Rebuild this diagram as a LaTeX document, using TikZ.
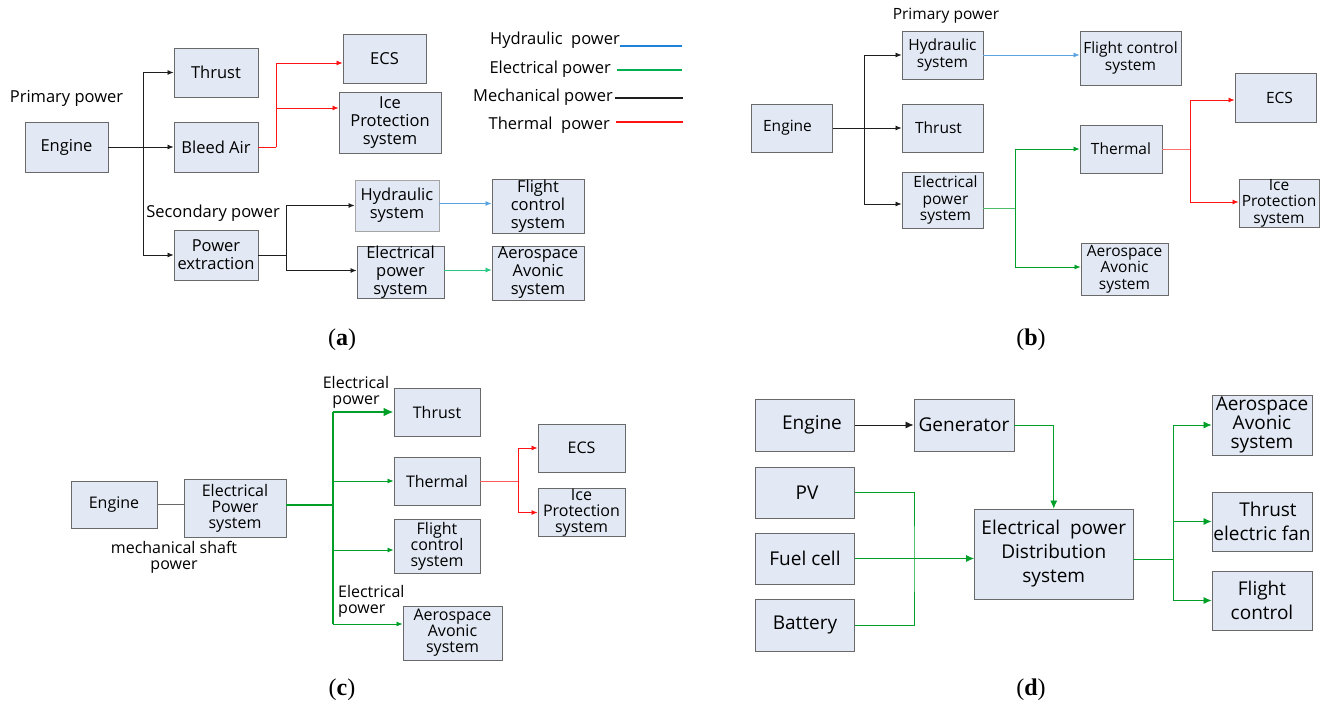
\documentclass[tikz,border=0pt]{standalone}
\usepackage{fontspec}
\setmainfont{Open Sans}
\newfontfamily\capfont{Liberation Serif}
\usetikzlibrary{arrows.meta,calc}

\definecolor{boxfill}{RGB}{226,233,244}
\definecolor{boxline}{RGB}{105,105,105}
\definecolor{hydblue}{RGB}{30,130,215}
\definecolor{hydline}{RGB}{90,165,225}
\definecolor{elgreen}{RGB}{0,160,40}
\definecolor{legreen}{RGB}{0,176,80}
\definecolor{tealgreen}{RGB}{40,200,130}
\definecolor{thred}{RGB}{255,20,20}
\definecolor{mech}{RGB}{30,30,30}

\tikzset{
  blk/.style={draw=boxline, fill=boxfill, line width=0.9pt, inner sep=0pt,
    align=center, text=black},
  fa/.style={font=\fontsize{16.5}{18}\selectfont},
  fb/.style={font=\fontsize{15.5}{16.5}\selectfont},
  fc/.style={font=\fontsize{16}{16}\selectfont},
  fd/.style={font=\fontsize{19}{24}\selectfont},
  lbl/.style={inner sep=0pt, align=center, text=black},
  wire/.style={line width=0.8pt},
  tip/.style={-{Latex[length=6pt,width=5pt]}},
  dtip/.style={-{Latex[length=8pt,width=7pt]}},
  bigtip/.style={-{Latex[length=10pt,width=9pt]}},
  mechw/.style={wire, draw=mech},
  hydw/.style={wire, draw=hydline},
  elw/.style={wire, draw=elgreen},
  thw/.style={wire, draw=thred},
  panelcap/.style={inner sep=0pt, font=\capfont\fontsize{24}{26}\selectfont}
}

\begin{document}
\begin{tikzpicture}[x=1pt, y=-1pt]
\useasboundingbox (0,0) rectangle (1323,709);

% ---------------- (a) ----------------
\node[blk,fa,minimum width=83pt,minimum height=50pt] (aEng) at (66.5,147) {Engine};
\node[blk,fa,minimum width=84pt,minimum height=49pt] (aThr) at (216,72.5) {Thrust};
\node[blk,fa,minimum width=84pt,minimum height=50pt] (aBleed) at (216,147) {Bleed Air};
\node[blk,fa,minimum width=84pt,minimum height=50pt] (aPow) at (216,255) {Power\\extraction};
\node[blk,fa,minimum width=83pt,minimum height=49pt] (aECS) at (384.5,58.5) {ECS};
\node[blk,fa,minimum width=102pt,minimum height=61pt] (aIce) at (390,122.5) {Ice\\Protection\\system};
\node[blk,fa,draw=boxline!60,minimum width=84pt,minimum height=51pt] (aHyd) at (397,205.5) {Hydraulic\\system};
\node[blk,fa,minimum width=87pt,minimum height=51pt] (aEps) at (400.5,272.5) {Electrical\\power\\system};
\node[blk,fa,minimum width=92pt,minimum height=54pt] (aFcs) at (538,206) {Flight\\control\\system};
\node[blk,fa,minimum width=92pt,minimum height=54pt] (aAer) at (538,273) {Aerospace\\Avonic\\system};

\node[lbl,fa] (aPrim) at (66.5,98) {Primary power};
\node[lbl,fa] (aSec) at (213,213) {Secondary power};

\coordinate (aJ) at (143,147);
\draw[mechw,tip] (aEng.east) -- (aBleed.west);
\draw[mechw,tip] (aJ) |- (aThr.west);
\draw[mechw,tip] (aJ) |- (aPow.west);
\coordinate (aR) at (276,147);
\draw[thw] (aBleed.east) -- (aR);
\draw[thw,tip] (aR) |- ([yshift=-4.5pt]aECS.west);
\draw[thw,tip] (aR) |- ([yshift=14.5pt]aIce.west);
\coordinate (aS) at (286,255);
\draw[mechw] (aPow.east) -- (aS);
\draw[mechw,tip] (aS) |- (aHyd.west);
\draw[mechw,tip] (aS) |- ([yshift=2pt]aEps.west);
\draw[hydw,tip] ([yshift=2pt]aHyd.east) -- ([yshift=2pt]aHyd.east -| aFcs.west);
\draw[wire,draw=tealgreen,tip] ([yshift=2.5pt]aEps.east) -- ([yshift=2.5pt]aEps.east -| aAer.west);

% legend
\node[lbl,fa,anchor=east] (lgH) at (620,40) {Hydraulic\ \ power};
\node[lbl,fa,anchor=east] (lgE) at (611,69) {Electrical power};
\node[lbl,fa,anchor=east] (lgM) at (613,97) {Mechanical power};
\node[lbl,fa,anchor=east] (lgT) at (610,125) {Thermal\ \ power};
\coordinate (lgHe) at (682,46);
\coordinate (lgEe) at (682,70);
\coordinate (lgMe) at (683,98);
\coordinate (lgTe) at (683,122);
\draw[line width=1.2pt,draw=hydblue] (620,46) -- (lgHe);
\draw[line width=1.2pt,draw=legreen] (617,70) -- (lgEe);
\draw[line width=1.2pt,draw=mech] (615,98) -- (lgMe);
\draw[line width=1.2pt,draw=thred] (616,122) -- (lgTe);

\node[panelcap] (capA) at (342,340) {(\textbf{a})};

% ---------------- (b) ----------------
\node[blk,fb,minimum width=81pt,minimum height=48pt] (bEng) at (792,128) {\hspace*{-9pt}Engine};
\node[blk,fb,minimum width=81pt,minimum height=48pt] (bHyd) at (942.5,55) {Hydraulic\\system};
\node[blk,fb,minimum width=81pt,minimum height=48pt] (bThr) at (942.5,128) {\hspace*{-8pt}Thrust};
\node[blk,fb,minimum width=81pt,minimum height=56pt] (bEps) at (942.5,200) {\hspace*{6pt}Electrical\\\hspace*{6pt}power\\\hspace*{6pt}system};
\node[blk,fb,minimum width=101pt,minimum height=54pt] (bFcs) at (1130.5,58) {Flight control\\system};
\node[blk,fb,minimum width=82pt,minimum height=48pt] (bThm) at (1121,149) {Thermal};
\node[blk,fb,minimum width=87pt,minimum height=52pt] (bAer) at (1124.5,269) {Aerospace\\Avonic\\system};
\node[blk,fb,minimum width=81pt,minimum height=49pt] (bECS) at (1275.5,97.5) {\hspace*{8pt}ECS};
\node[blk,fb,minimum width=80pt,minimum height=48pt] (bIce) at (1279,203) {Ice\\Protection\\system};
\node[lbl,fb] (bPrim) at (946,16) {Primary power};

\coordinate (bJ) at (864,128);
\draw[mechw,tip] (bEng.east) -- (bThr.west);
\draw[mechw,tip] (bJ) |- (bHyd.west);
\draw[mechw,tip] (bJ) |- ([yshift=-4pt]bEps.west);
\draw[hydw,tip] (bHyd.east) -- (bHyd.east -| bFcs.west);
\coordinate (bG) at (1015.6,208);
\draw[elw,draw=elgreen!70] ([yshift=-8pt]bEps.east) -- (bG);
\draw[elw,tip] (bG) |- (bThm.west);
\draw[elw,tip] (bG) |- ([yshift=2pt]bAer.west);
\coordinate (bR) at (1190.6,149);
\draw[thw,draw=thred!60] (bThm.east) -- (bR);
\draw[thw,tip] (bR) |- ([yshift=-2.5pt]bECS.west);
\draw[thw,tip] (bR) |- ([yshift=1pt]bIce.west);

\node[panelcap] (capB) at (1031,340) {(\textbf{b})};

% ---------------- (c) ----------------
\node[blk,fc,minimum width=86pt,minimum height=47pt] (cEng) at (114,504.5) {Engine};
\node[blk,fc,minimum width=102pt,minimum height=58pt] (cEps) at (235,508) {Electrical\\Power\\system};
\node[blk,fc,minimum width=86pt,minimum height=48pt] (cThr) at (437,412) {Thrust};
\node[blk,fc,minimum width=86pt,minimum height=48pt] (cThm) at (437,481) {Thermal};
\node[blk,fc,minimum width=86pt,minimum height=54pt] (cFcs) at (437,546) {Flight\\control\\system};
\node[blk,fc,minimum width=99pt,minimum height=54pt] (cAer) at (452.5,633) {Aerospace\\Avonic\\system};
\node[blk,fc,minimum width=87pt,minimum height=48pt] (cECS) at (581.5,448) {ECS};
\node[blk,fc,minimum width=87pt,minimum height=47pt] (cIce) at (581.5,512.5) {Ice\\Protection\\system};

\node[lbl,fc] (cLab1) at (356,392.5) {Electrical\\power};
\node[lbl,fc] (cLab2) at (174,557.5) {mechanical shaft\\power};
\node[lbl,fc,align=left,anchor=west] (cLab3) at (338,601.5) {Electrical\\power};

\draw[mechw,draw=boxline] (cEng.east) -- (cEng.east -| cEps.west);
\coordinate (cJ) at (333,505);
\coordinate (cTop) at (333,412);
\coordinate (cBot) at (333,624);
\draw[line width=2.4pt,draw=elgreen] ([yshift=3pt]cEps.east) -- (cJ);
\draw[line width=2.4pt,draw=elgreen] (cTop) -- (cBot);
\draw[line width=2.4pt,draw=elgreen,bigtip] (cTop) -- (cThr.west);
\draw[elw,tip] (cTop |- cThm.west) -- (cThm.west);
\draw[elw,tip] (cTop |- 0,550) -- ([yshift=-4pt]cFcs.west);
\draw[elw,tip] (cBot) -- ([yshift=9pt]cAer.west);
\coordinate (cR) at (518,481);
\draw[thw,draw=thred!70] (cThm.east) -- (cR);
\draw[thw,tip] (cR) |- (cECS.west);
\draw[thw,tip] (cR) |- (cIce.west);

\node[panelcap] (capC) at (342,690) {(\textbf{c})};

% ---------------- (d) ----------------
\node[blk,fd,minimum width=99.5pt,minimum height=52pt] (dEng) at (805,425) {\hspace*{14pt}Engine};
\node[blk,fd,minimum width=100pt,minimum height=52pt] (dGen) at (964,425) {Generator};
\node[blk,fd,minimum width=99.5pt,minimum height=51pt] (dPV) at (805,492.5) {\hspace*{4pt}PV};
\node[blk,fd,minimum width=99.5pt,minimum height=51pt] (dFuel) at (805,558.5) {Fuel cell};
\node[blk,fd,minimum width=99.5pt,minimum height=52pt] (dBat) at (805,625) {Battery};
\node[blk,fd,minimum width=158.5pt,minimum height=90pt] (dEpd) at (1053.75,554) {Electrical\ \ power\\Distribution\\system};
\node[blk,fd,font=\fontsize{19}{19}\selectfont,minimum width=100pt,minimum height=60pt] (dAer) at (1262,425) {Aerospace\\Avonic\\system};
\node[blk,fd,minimum width=100pt,minimum height=59pt] (dThr) at (1262,521.5) {\hspace*{12pt}Thrust\\electric fan};
\node[blk,fd,minimum width=100pt,minimum height=59pt] (dFcs) at (1262,600.5) {Flight\\control};

\draw[mechw,dtip] (dEng.east) -- (dGen.west);
\draw[elw,dtip] (dGen.east) -| (dEpd.north);
\coordinate (dX) at (914,559);
\draw[elw] (dPV.east) -| (dX) |- (dBat.east);
\draw[elw,dtip] (dFuel.east) -- (dFuel.east -| dEpd.west);
\coordinate (dJ) at (1173.6,559);
\draw[elw] ([yshift=-5pt]dEpd.east) -- (dJ);
\draw[elw,dtip] (dJ) |- (dAer.west);
\draw[elw,dtip] (dJ) |- (dThr.west);
\draw[elw,dtip] (dJ) |- (dFcs.west);

\node[panelcap] (capD) at (1031,690) {(\textbf{d})};
\end{tikzpicture}
\end{document}
